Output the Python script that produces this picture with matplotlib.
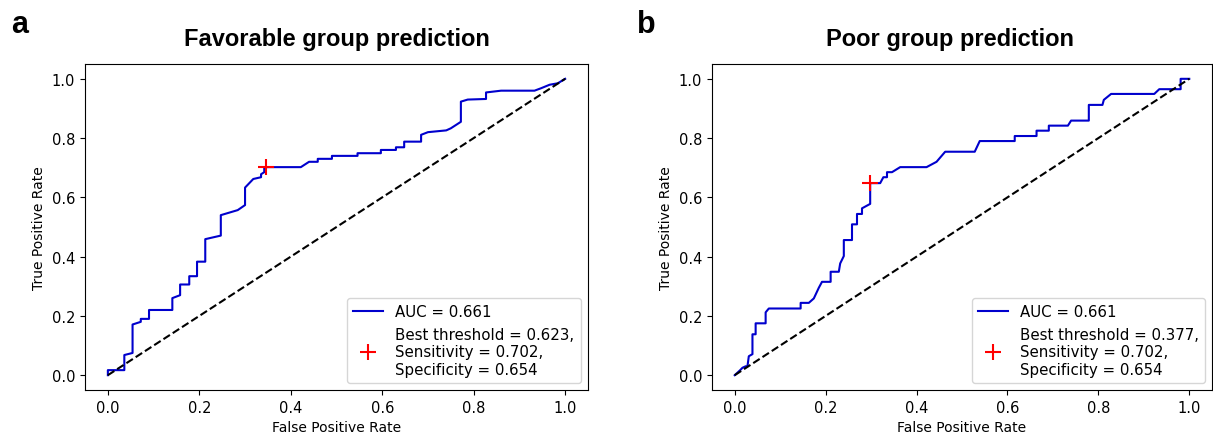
import matplotlib
matplotlib.use("Agg")
import matplotlib.pyplot as plt

# --- ROC vertices ---
fav_fpr = [0, 0, 0.036, 0.036, 0.054, 0.054, 0.072, 0.072, 0.090, 0.090, 0.141, 0.141,
           0.158, 0.158, 0.178, 0.178, 0.195, 0.195, 0.213, 0.213, 0.247, 0.247, 0.284,
           0.300, 0.300, 0.318, 0.335, 0.335, 0.342, 0.342, 0.422, 0.440, 0.459, 0.459,
           0.490, 0.490, 0.546, 0.546, 0.597, 0.597, 0.630, 0.630, 0.648, 0.648, 0.685,
           0.685, 0.700, 0.740, 0.750, 0.772, 0.772, 0.787, 0.827, 0.827, 0.860, 0.933,
           0.947, 0.966, 0.984, 1.0]
fav_tpr = [0, 0.017, 0.017, 0.068, 0.075, 0.171, 0.180, 0.190, 0.190, 0.220, 0.220, 0.260,
           0.270, 0.306, 0.306, 0.334, 0.334, 0.383, 0.383, 0.459, 0.471, 0.540, 0.557,
           0.574, 0.633, 0.662, 0.668, 0.678, 0.685, 0.702, 0.702, 0.720, 0.720, 0.730,
           0.730, 0.740, 0.740, 0.749, 0.749, 0.760, 0.760, 0.769, 0.769, 0.788, 0.788,
           0.811, 0.820, 0.826, 0.833, 0.855, 0.923, 0.930, 0.932, 0.954, 0.960, 0.960,
           0.968, 0.980, 0.985, 1.0]
fav_best = (0.346, 0.702)

poor_fpr = [0, 0.012, 0.017, 0.024, 0.028, 0.031, 0.039, 0.039, 0.046, 0.046, 0.068, 0.068,
            0.075, 0.145, 0.145, 0.163, 0.174, 0.185, 0.192, 0.211, 0.211, 0.229, 0.232,
            0.240, 0.240, 0.258, 0.258, 0.269, 0.269, 0.280, 0.280, 0.298, 0.298, 0.320,
            0.327, 0.335, 0.335, 0.346, 0.364, 0.422, 0.444, 0.463, 0.528, 0.539, 0.616,
            0.616, 0.664, 0.664, 0.691, 0.691, 0.733, 0.740, 0.779, 0.779, 0.809, 0.812,
            0.828, 0.923, 0.934, 0.981, 0.981, 1.0]
poor_tpr = [0, 0.017, 0.025, 0.030, 0.030, 0.064, 0.071, 0.138, 0.138, 0.175, 0.175, 0.212,
            0.225, 0.225, 0.244, 0.244, 0.259, 0.295, 0.315, 0.315, 0.349, 0.349, 0.377,
            0.402, 0.456, 0.456, 0.509, 0.509, 0.544, 0.544, 0.563, 0.578, 0.648, 0.648,
            0.668, 0.668, 0.685, 0.685, 0.702, 0.702, 0.720, 0.754, 0.754, 0.790, 0.790,
            0.807, 0.807, 0.825, 0.825, 0.842, 0.842, 0.859, 0.859, 0.912, 0.912, 0.929,
            0.949, 0.949, 0.965, 0.965, 1.0, 1.0]
poor_best = (0.298, 0.650)

panels = [
    ("a", "Favorable group prediction", fav_fpr, fav_tpr, fav_best,
     "AUC = 0.661", "Best threshold = 0.623,\nSensitivity = 0.702,\nSpecificity = 0.654"),
    ("b", "Poor group prediction", poor_fpr, poor_tpr, poor_best,
     "AUC = 0.661", "Best threshold = 0.377,\nSensitivity = 0.702,\nSpecificity = 0.654"),
]

W, H = 1213, 439
fig = plt.figure(figsize=(W / 100, H / 100), dpi=100)
rects = [[85 / W, 48 / H, 503 / W, 326 / H], [712 / W, 48 / H, 500 / W, 326 / H]]
title_x = [0.5, 0.476]
letter_x = [11 / W, 637 / W]

for i, (letter, title, fpr, tpr, best, auc_lbl, best_lbl) in enumerate(panels):
    ax = fig.add_axes(rects[i])
    ax.plot(fpr, tpr, color="mediumblue", lw=1.5, label=auc_lbl)
    ax.plot([0, 1], [0, 1], "k--", lw=1.5)
    ax.plot(best[0], best[1], "+", color="red", markersize=12, mew=1.5, label=best_lbl)
    ax.set_xticks([0, 0.2, 0.4, 0.6, 0.8, 1.0])
    ax.set_yticks([0, 0.2, 0.4, 0.6, 0.8, 1.0])
    ax.tick_params(labelsize=10.5)
    ax.set_xlabel("False Positive Rate", fontsize=10)
    ax.set_ylabel("True Positive Rate", fontsize=10)
    ax.set_title(title, fontsize=17, fontweight="bold", family="Liberation Sans",
                 x=title_x[i], pad=14)
    ax.legend(loc="lower right", fontsize=10.8)
    fig.text(letter_x[i], 1 - 33 / H, letter, fontsize=22, fontweight="bold",
             family="Liberation Sans")

plt.savefig("out.png", dpi=100)
print("saved out.png")
